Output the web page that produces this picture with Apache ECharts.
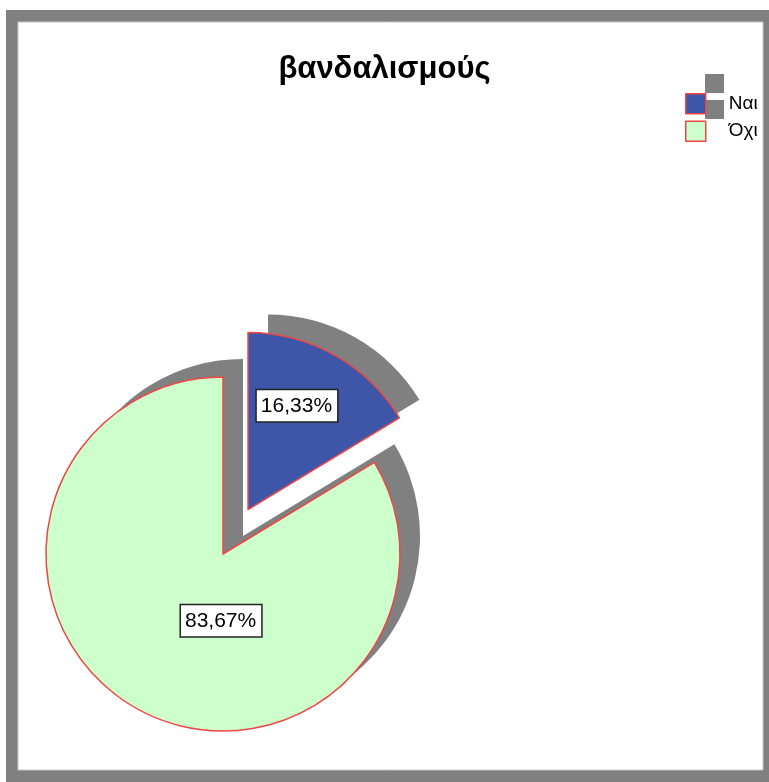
<!DOCTYPE html>
<html>
<head>
<meta charset="utf-8">
<script src="https://cdn.jsdelivr.net/npm/echarts@6/dist/echarts.min.js"></script>
<style>
html,body{margin:0;padding:0;background:#fff;}
#chart{width:769px;height:782px;}
</style>
</head>
<body>
<div id="chart"></div>
<script>
// ---- data ----
const titleText = 'βανδαλισμούς';
const categories = ['Ναι', 'Όχι'];
const values = [16.33, 83.67];
const explodedCategory = 'Ναι';

// ---- styles ----
const sliceColors = ['#3d56a8', '#ccffcc'];
const shadowColor = '#808080';
const edgeColor = '#f04545';
const fontFamily = 'Arial, "Liberation Sans", sans-serif';

const center = [223, 554];
const radius = 177;
const explode = 51;
const shadowShift = [20, -18];
const labelShift = { 'Ναι': [4, -24], 'Όχι': [43, -13] };

const chart = echarts.init(document.getElementById('chart'), null, { renderer: 'canvas' });

const fmtPct = v => v.toFixed(2).replace('.', ',') + '%';
const shadowName = c => c + ' σκιά';

const mainData = categories.map((c, i) => ({
  name: c,
  value: values[i],
  selected: c === explodedCategory,
  itemStyle: { color: sliceColors[i] }
}));
const shadowData = categories.map((c, i) => ({
  name: shadowName(c),
  value: values[i],
  selected: c === explodedCategory,
  itemStyle: { color: shadowColor }
}));

const option = {
  animation: false,
  graphic: [
    { type: 'rect', z: -10, shape: { x: 6, y: 10, width: 763, height: 772 }, style: { fill: '#808080' } },
    { type: 'rect', z: -9, shape: { x: 18, y: 22, width: 745, height: 748 }, style: { fill: '#ffffff', stroke: '#c8c8c8', lineWidth: 1 } }
  ],
  title: {
    text: titleText,
    left: 'center',
    top: 49,
    textStyle: { fontFamily: fontFamily, fontSize: 31, fontWeight: 'bold', color: '#000' }
  },
  legend: [
    {
      data: categories.map(shadowName),
      orient: 'vertical',
      left: 705,
      top: 74,
      padding: 0,
      itemWidth: 19,
      itemHeight: 19,
      itemGap: 7,
      icon: 'rect',
      selectedMode: false,
      formatter: () => '',
      textStyle: { fontSize: 1 }
    },
    {
      data: categories,
      orient: 'vertical',
      left: 685,
      top: 93,
      padding: 0,
      itemWidth: 20,
      itemHeight: 20,
      itemGap: 6,
      icon: 'rect',
      selectedMode: false,
      itemStyle: { borderColor: edgeColor, borderWidth: 1.5 },
      textStyle: { fontFamily: fontFamily, fontSize: 19, color: '#000', padding: [5, 0, 0, 18] }
    }
  ],
  series: [
    {
      name: 'shadow',
      type: 'pie',
      silent: true,
      center: [center[0] + shadowShift[0], center[1] + shadowShift[1]],
      radius: radius,
      startAngle: 90,
      clockwise: true,
      selectedMode: 'multiple',
      selectedOffset: explode,
      label: { show: false },
      labelLine: { show: false },
      emphasis: { disabled: true },
      itemStyle: { borderWidth: 0 },
      data: shadowData
    },
    {
      name: 'main',
      type: 'pie',
      silent: true,
      center: center,
      radius: radius,
      startAngle: 90,
      clockwise: true,
      selectedMode: 'multiple',
      selectedOffset: explode,
      emphasis: { disabled: true },
      itemStyle: { borderColor: edgeColor, borderWidth: 1.5 },
      label: {
        show: true,
        position: 'inside',
        formatter: p => fmtPct(p.value),
        fontFamily: fontFamily,
        fontSize: 21,
        color: '#000',
        backgroundColor: '#fff',
        borderColor: '#222',
        borderWidth: 1.5,
        padding: [6, 5, 4, 4]
      },
      labelLine: { show: false },
      labelLayout: params => {
        const s = labelShift[categories[params.dataIndex]] || [0, 0];
        return { dx: s[0], dy: s[1] };
      },
      data: mainData
    }
  ]
};

chart.setOption(option);
</script>
</body>
</html>
